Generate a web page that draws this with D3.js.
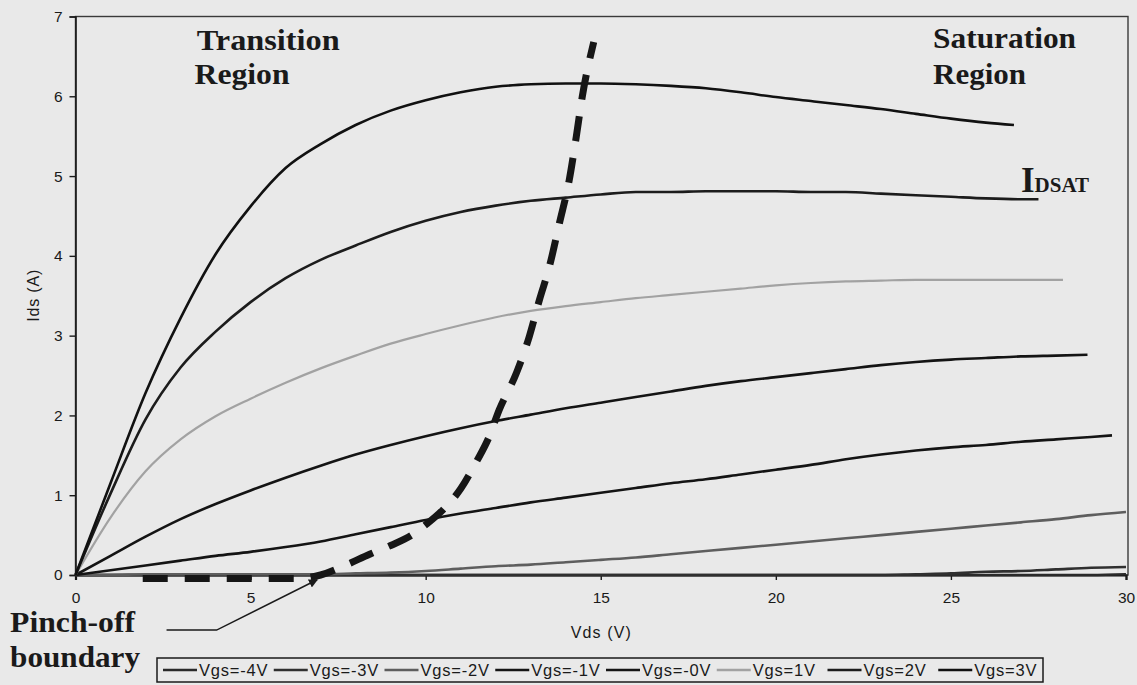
<!DOCTYPE html>
<html>
<head>
<meta charset="utf-8">
<script src="https://cdn.jsdelivr.net/npm/d3@7"></script>
<style>
  html, body { margin: 0; padding: 0; background: #e9e9e9; }
  svg { display: block; }
  .axis text { font-family: "Liberation Sans", Arial, sans-serif; font-size: 15.5px; fill: #1a1a1a; }
  .note { font-family: "Liberation Serif", "Times New Roman", serif; font-weight: bold; fill: #1a1a1a; }
</style>
</head>
<body>
<div id="chart"></div>
<script>
// Vds grid (V) shared by all curves; the last point of each curve sits at vdsEnd
const vds = [0, 1, 2, 3, 4, 5, 6, 7, 8, 9, 10, 11, 12, 13, 14, 15, 16, 17, 18, 19, 20,
             21, 22, 23, 24, 25, 26, 27, 28, 29, 30];

const seriesNames = ['Vgs=-4V', 'Vgs=-3V', 'Vgs=-2V', 'Vgs=-1V', 'Vgs=-0V', 'Vgs=1V', 'Vgs=2V', 'Vgs=3V'];
const vdsEnd = [30, 30, 30, 29.6, 28.9, 28.2, 27.5, 26.8];

// Ids (A)
const idsM4 = [0, 0, 0, 0, 0, 0, 0, 0, 0, 0, 0, 0, 0, 0, 0, 0, 0, 0, 0, 0, 0, 0, 0, 0, 0, 0, 0, 0, 0, 0, 0.01];
const idsM3 = [0, 0, 0, 0, 0, 0, 0, 0, 0, 0, 0, 0, 0, 0, 0, 0, 0, 0, 0, 0, 0, 0, 0, 0, 0.01, 0.02, 0.04, 0.05, 0.07, 0.09, 0.1];
const idsM2 = [0, 0, 0.01, 0.01, 0.01, 0.01, 0.01, 0.01, 0.02, 0.03, 0.05, 0.08, 0.11, 0.13, 0.16, 0.19, 0.22, 0.26, 0.3, 0.34,
               0.38, 0.42, 0.46, 0.5, 0.54, 0.58, 0.62, 0.66, 0.7, 0.75, 0.79];
const idsM1 = [0, 0.06, 0.12, 0.18, 0.24, 0.29, 0.35, 0.42, 0.51, 0.6, 0.69, 0.77, 0.84, 0.91, 0.97, 1.03, 1.09, 1.15, 1.2, 1.26,
               1.32, 1.38, 1.45, 1.51, 1.56, 1.6, 1.63, 1.67, 1.7, 1.73, 1.75];
const ids0 = [0, 0.24, 0.48, 0.7, 0.89, 1.06, 1.22, 1.37, 1.51, 1.63, 1.74, 1.84, 1.93, 2.01, 2.09, 2.16, 2.23, 2.3, 2.37, 2.43,
              2.48, 2.53, 2.58, 2.63, 2.67, 2.7, 2.72, 2.74, 2.75, 2.76];
const ids1 = [0, 0.72, 1.3, 1.7, 1.99, 2.21, 2.41, 2.59, 2.75, 2.9, 3.02, 3.13, 3.23, 3.31, 3.37, 3.42, 3.47, 3.51, 3.55, 3.59,
              3.63, 3.66, 3.68, 3.69, 3.7, 3.7, 3.7, 3.7, 3.7, 3.7];
const ids2 = [0, 1.02, 1.95, 2.6, 3.05, 3.42, 3.72, 3.95, 4.13, 4.3, 4.44, 4.55, 4.63, 4.69, 4.73, 4.77, 4.8, 4.8, 4.81, 4.81,
              4.81, 4.8, 4.8, 4.78, 4.76, 4.74, 4.72, 4.71, 4.71];
const ids3 = [0, 1.15, 2.28, 3.22, 4.02, 4.62, 5.1, 5.4, 5.64, 5.82, 5.95, 6.05, 6.12, 6.15, 6.16, 6.16, 6.15, 6.13, 6.1, 6.05,
              5.99, 5.94, 5.89, 5.84, 5.78, 5.72, 5.67, 5.64];
const seriesIds = [idsM4, idsM3, idsM2, idsM1, ids0, ids1, ids2, ids3];
const seriesColors = ['#2a2a2a', '#303030', '#5e5e5e', '#141414', '#141414', '#a2a2a2', '#1c1c1c', '#111111'];

// pinch-off boundary (dashed)
const pinchVds = [1.92, 6.3, 7.0, 7.7, 8.4, 9.0, 9.6, 10.0, 10.5, 11.0, 11.45, 11.8, 12.1, 12.6, 12.96, 13.25, 13.53, 13.82, 14.1, 14.3, 14.47, 14.8];
const pinchIds = [-0.045, -0.045, 0.0, 0.12, 0.26, 0.37, 0.5, 0.63, 0.82, 1.08, 1.42, 1.72, 2.07, 2.54, 2.99, 3.45, 3.86, 4.41, 4.95, 5.49, 5.99, 6.68];

// pointer from the "Pinch-off boundary" label
const pointerVds = [2.6, 4.03, 6.9];
const pointerIds = [-0.69, -0.69, -0.06];

const xTicks = [0, 5, 10, 15, 20, 25, 30];
const yTicks = [0, 1, 2, 3, 4, 5, 6, 7];

const W = 1137, H = 685;
const margin = { top: 16.5, right: 9, bottom: 110, left: 75.5 };
const plotW = W - margin.left - margin.right;
const plotH = H - margin.top - margin.bottom;

const svg = d3.select('#chart').append('svg')
    .attr('width', W)
    .attr('height', H);

const defs = svg.append('defs');
defs.append('marker')
    .attr('id', 'arrow')
    .attr('viewBox', '0 0 10 10')
    .attr('refX', 9).attr('refY', 5)
    .attr('markerWidth', 9).attr('markerHeight', 9)
    .attr('markerUnits', 'userSpaceOnUse')
    .attr('orient', 'auto')
    .append('path')
    .attr('d', 'M0,0 L10,5 L0,10 z')
    .attr('fill', '#1a1a1a');

const g = svg.append('g')
    .attr('transform', `translate(${margin.left},${margin.top})`);

const x = d3.scaleLinear().domain([0, 30]).range([0, plotW - 2]);
const y = d3.scaleLinear().domain([0, 7]).range([plotH, 0]);

// plot frame (top/right)
g.append('rect')
    .attr('x', 0).attr('y', 0)
    .attr('width', plotW).attr('height', plotH)
    .attr('fill', 'none')
    .attr('stroke', '#3a3a3a')
    .attr('stroke-width', 1.4);

// axes
const yAxis = g.append('g')
    .classed('axis', true)
    .call(d3.axisLeft(y).tickValues(yTicks).tickSize(6).tickPadding(7).tickFormat(d3.format('d')));
const xAxis = g.append('g')
    .classed('axis', true)
    .attr('transform', `translate(0,${plotH})`)
    .call(d3.axisBottom(x).tickValues(xTicks).tickSize(5).tickPadding(12).tickFormat(d3.format('d')));
yAxis.select('.domain').attr('stroke', '#1a1a1a').attr('stroke-width', 1.6);
xAxis.select('.domain').attr('stroke', '#111').attr('stroke-width', 2.2);
g.selectAll('.axis .tick line').attr('stroke', '#1a1a1a').attr('stroke-width', 1.4);

// axis titles
svg.append('text')
    .attr('x', margin.left + x(15))
    .attr('y', 638)
    .attr('text-anchor', 'middle')
    .attr('textLength', 60)
    .style('font-family', '"Liberation Sans", Arial, sans-serif')
    .style('font-size', '16px')
    .style('fill', '#1a1a1a')
    .text('Vds (V)');
svg.append('text')
    .attr('transform', `translate(39,${margin.top + y(3.5)}) rotate(-90)`)
    .attr('text-anchor', 'middle')
    .attr('textLength', 52)
    .style('font-family', '"Liberation Sans", Arial, sans-serif')
    .style('font-size', '16px')
    .style('fill', '#1a1a1a')
    .text('Ids (A)');

// curves
const series = seriesNames.map((name, i) => ({
    name,
    color: seriesColors[i],
    points: seriesIds[i].map((v, k, arr) => ({ vds: k < arr.length - 1 ? vds[k] : vdsEnd[i], ids: v }))
}));

const line = d3.line()
    .x(d => x(d.vds))
    .y(d => y(d.ids))
    .curve(d3.curveMonotoneX);

g.append('g').classed('curves', true)
    .selectAll('path')
    .data(series)
    .enter()
    .append('path')
    .attr('d', d => line(d.points))
    .attr('fill', 'none')
    .attr('stroke', d => d.color)
    .attr('stroke-width', d => d.name === 'Vgs=1V' ? 2.2 : 2.6)
    .attr('stroke-linejoin', 'round');

// pinch-off boundary
const pinch = pinchVds.map((v, k) => ({ vds: v, ids: pinchIds[k] }));
g.append('path')
    .attr('d', line(pinch))
    .attr('fill', 'none')
    .attr('stroke', '#161616')
    .attr('stroke-width', 7)
    .attr('stroke-dasharray', '25,17');

// pointer arrow
const pointer = pointerVds.map((v, k) => ({ vds: v, ids: pointerIds[k] }));
g.append('path')
    .attr('d', d3.line().x(d => x(d.vds)).y(d => y(d.ids))(pointer))
    .attr('fill', 'none')
    .attr('stroke', '#1a1a1a')
    .attr('stroke-width', 1.5)
    .attr('marker-end', 'url(#arrow)');

// annotations
function note(text, vx, vy, size, len) {
    return g.append('text')
        .classed('note', true)
        .attr('x', x(vx))
        .attr('y', y(vy))
        .attr('textLength', len)
        .attr('lengthAdjust', 'spacingAndGlyphs')
        .style('font-size', size + 'px')
        .text(text);
}
note('Transition', 3.46, 6.58, 30, 143);
note('Region', 3.4, 6.16, 30, 95);
note('Saturation', 24.49, 6.6, 30, 143);
note('Region', 24.49, 6.16, 30, 93);
note('Pinch-off', -1.87, -0.72, 29, 125);
note('boundary', -1.87, -1.15, 29, 130);

const idsat = g.append('text')
    .classed('note', true)
    .attr('x', x(27.0))
    .attr('y', y(4.8));
idsat.append('tspan').style('font-size', '35px').text('I');
idsat.append('tspan').style('font-size', '21px').text('DSAT');

// legend
const legendX = 157, legendY = 658, legendW = 886, legendH = 24;
const legend = svg.append('g').attr('transform', `translate(${legendX},${legendY})`);
legend.append('rect')
    .attr('width', legendW)
    .attr('height', legendH)
    .attr('fill', 'none')
    .attr('stroke', '#1a1a1a')
    .attr('stroke-width', 1.5);
const itemW = legendW / seriesNames.length;
const items = legend.selectAll('.item')
    .data(series)
    .enter()
    .append('g')
    .classed('item', true)
    .attr('transform', (d, i) => `translate(${6 + i * itemW},0)`);
items.append('line')
    .attr('x1', 0).attr('x2', 34)
    .attr('y1', legendH / 2).attr('y2', legendH / 2)
    .attr('stroke', d => d.color)
    .attr('stroke-width', 2.4);
items.append('text')
    .attr('x', 36)
    .attr('y', legendH / 2 + 6)
    .style('font-family', '"Liberation Sans", Arial, sans-serif')
    .style('font-size', '16.5px')
    .style('letter-spacing', '0.8px')
    .style('fill', '#1a1a1a')
    .text(d => d.name);
</script>
</body>
</html>
